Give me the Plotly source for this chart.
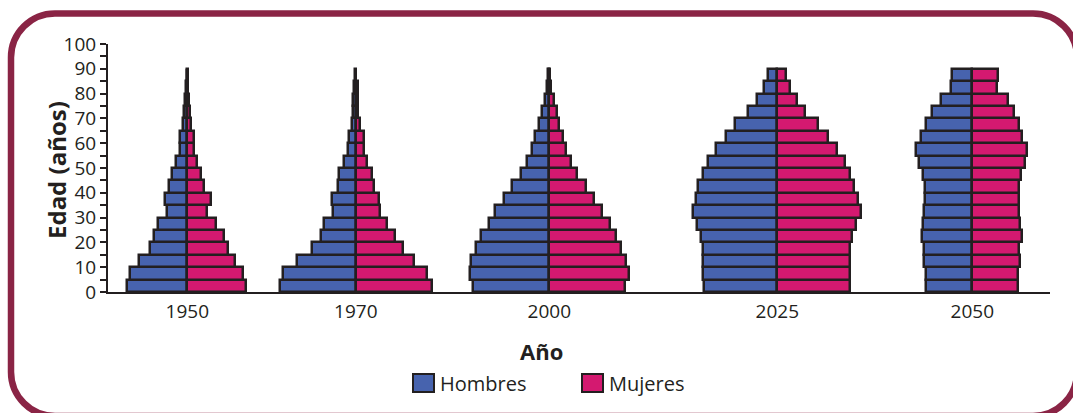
import plotly.graph_objects as go

# Age groups (lower bound of each 5-year band) and the mid-point used for the bars
edades = list(range(0, 90, 5))
edad_media = [e + 2.5 for e in edades]

anios = ["1950", "1970", "2000", "2025", "2050"]
# horizontal position of each pyramid's centre line on the x axis
posiciones = [7.93, 24.78, 44.13, 66.93, 86.43]

# Share of population per age band (from youngest to oldest)
hombres_1950 = [6.0, 5.7, 4.8, 3.7, 3.3, 2.9, 2.0, 2.2, 1.8, 1.5, 1.1, 0.7, 0.7, 0.4, 0.3, 0.2, 0.1, 0.05]
mujeres_1950 = [5.9, 5.6, 4.8, 4.1, 3.7, 2.9, 2.0, 2.4, 1.7, 1.4, 1.0, 0.7, 0.7, 0.4, 0.3, 0.2, 0.1, 0.05]

hombres_1970 = [7.6, 7.3, 5.9, 4.4, 3.5, 3.2, 2.3, 2.4, 1.8, 1.7, 1.2, 0.8, 0.7, 0.4, 0.3, 0.3, 0.2, 0.05]
mujeres_1970 = [7.6, 7.1, 5.8, 4.7, 3.9, 3.1, 2.4, 2.3, 1.8, 1.6, 1.1, 0.8, 0.8, 0.4, 0.2, 0.2, 0.2, 0.05]

hombres_2000 = [7.6, 7.9, 7.8, 7.3, 6.8, 6.0, 5.4, 4.5, 3.7, 2.8, 2.2, 1.7, 1.4, 1.0, 0.7, 0.4, 0.2, 0.1]
mujeres_2000 = [7.6, 8.0, 7.7, 7.2, 6.7, 6.1, 5.3, 4.5, 3.7, 2.8, 2.2, 1.7, 1.4, 1.0, 0.8, 0.5, 0.2, 0.1]

hombres_2025 = [7.3, 7.4, 7.4, 7.4, 7.6, 8.0, 8.4, 8.1, 7.9, 7.4, 6.9, 6.1, 5.1, 4.2, 2.9, 2.0, 1.3, 0.9]
mujeres_2025 = [7.3, 7.3, 7.3, 7.3, 7.5, 7.9, 8.4, 8.1, 7.7, 7.3, 6.8, 6.0, 5.1, 4.1, 2.8, 2.0, 1.3, 0.9]

hombres_2050 = [4.6, 4.6, 4.8, 4.8, 5.0, 4.9, 4.8, 4.7, 4.7, 4.9, 5.3, 5.6, 5.1, 4.6, 4.0, 3.1, 2.1, 2.0]
mujeres_2050 = [4.6, 4.6, 4.8, 4.7, 5.0, 4.8, 4.7, 4.7, 4.7, 4.9, 5.3, 5.5, 5.0, 4.7, 4.2, 3.6, 2.5, 2.6]

hombres = [hombres_1950, hombres_1970, hombres_2000, hombres_2025, hombres_2050]
mujeres = [mujeres_1950, mujeres_1970, mujeres_2000, mujeres_2025, mujeres_2050]

AZUL = "#4763ae"
MAGENTA = "#d41970"
CONTORNO = "#231f20"
MARCO = "#8a2445"
FUENTE = "Open Sans"

# pixel geometry of the plotting area
W, H = 1073, 413
ML, MR, MT, MB = 108, 23, 44, 121
PW, PH = W - ML - MR, H - MT - MB

fig = go.Figure()

# one pair of traces (men to the left, women to the right) per year
for pos, h, m in zip(posiciones, hombres, mujeres):
    fig.add_trace(go.Bar(
        y=edad_media, x=[-v for v in h], base=pos, orientation="h", width=5,
        marker=dict(color=AZUL, line=dict(color=CONTORNO, width=2.5)),
        showlegend=False, hoverinfo="skip"))
    fig.add_trace(go.Bar(
        y=edad_media, x=m, base=pos, orientation="h", width=5,
        marker=dict(color=MAGENTA, line=dict(color=CONTORNO, width=2.5)),
        showlegend=False, hoverinfo="skip"))


def pp(x, y):
    """pixel -> paper coordinates"""
    return (x - ML) / PW, (MT + PH - y) / PH


def fmt(x, y):
    a, b = pp(x, y)
    return f"{a:.5f},{b:.5f}"


# rounded outer frame
L, T, R, B, r = 11, 13.5, 1077, 416, 44
k = 0.5523 * r
path = (
    f"M{fmt(L + r, T)} L{fmt(R - r, T)} "
    f"C{fmt(R - r + k, T)} {fmt(R, T + r - k)} {fmt(R, T + r)} "
    f"L{fmt(R, B - r)} "
    f"C{fmt(R, B - r + k)} {fmt(R - r + k, B)} {fmt(R - r, B)} "
    f"L{fmt(L + r, B)} "
    f"C{fmt(L + r - k, B)} {fmt(L, B - r + k)} {fmt(L, B - r)} "
    f"L{fmt(L, T + r)} "
    f"C{fmt(L, T + r - k)} {fmt(L + r - k, T)} {fmt(L + r, T)} Z"
)
shapes = [dict(type="path", xref="paper", yref="paper", path=path,
               line=dict(color=MARCO, width=6.5), layer="below")]

# legend swatches
for x0, color in [(413, AZUL), (582, MAGENTA)]:
    a0, b0 = pp(x0, 392)
    a1, b1 = pp(x0 + 21, 374)
    shapes.append(dict(type="rect", xref="paper", yref="paper",
                       x0=a0, y0=b0, x1=a1, y1=b1, fillcolor=color,
                       line=dict(color=CONTORNO, width=2)))

annotations = []
ax, ay = pp(56, 170)
annotations.append(dict(text="<b>Edad (años)</b>", x=ax, y=ay, xref="paper", yref="paper",
                        textangle=-90, showarrow=False, xanchor="center", yanchor="middle",
                        font=dict(family=FUENTE, size=24, color=CONTORNO)))
ax, ay = pp(541, 351)
annotations.append(dict(text="<b>Año</b>", x=ax, y=ay, xref="paper", yref="paper",
                        showarrow=False, xanchor="center", yanchor="middle",
                        font=dict(family=FUENTE, size=22, color=CONTORNO)))
for x0, txt in [(438, "Hombres"), (607, "Mujeres")]:
    ax, ay = pp(x0, 383)
    annotations.append(dict(text=txt, x=ax, y=ay, xref="paper", yref="paper",
                            showarrow=False, xanchor="left", yanchor="middle",
                            font=dict(family=FUENTE, size=20, color=CONTORNO)))

fig.update_layout(
    width=W, height=H,
    margin=dict(l=ML, r=MR, t=MT, b=MB, pad=0),
    paper_bgcolor="white", plot_bgcolor="white",
    barmode="overlay", bargap=0,
    font=dict(family=FUENTE, color=CONTORNO),
    shapes=shapes, annotations=annotations,
    xaxis=dict(range=[0, PW / 10], tickvals=posiciones, ticktext=anios,
               showline=True, linecolor=CONTORNO, linewidth=2,
               ticks="outside", ticklen=1, tickcolor="rgba(0,0,0,0)",
               showgrid=False, zeroline=False, fixedrange=True,
               tickfont=dict(family=FUENTE, size=19, color=CONTORNO)),
    yaxis=dict(range=[0, 100], tickvals=list(range(0, 101, 10)),
               showline=True, linecolor=CONTORNO, linewidth=2,
               ticks="outside", ticklen=6, tickwidth=1.5, tickcolor=CONTORNO,
               minor=dict(dtick=5, ticks="outside", ticklen=6, tickwidth=1.5,
                          tickcolor=CONTORNO),
               showgrid=False, zeroline=False, fixedrange=True,
               tickfont=dict(family=FUENTE, size=19, color=CONTORNO)),
)

fig.write_html("out.html")
